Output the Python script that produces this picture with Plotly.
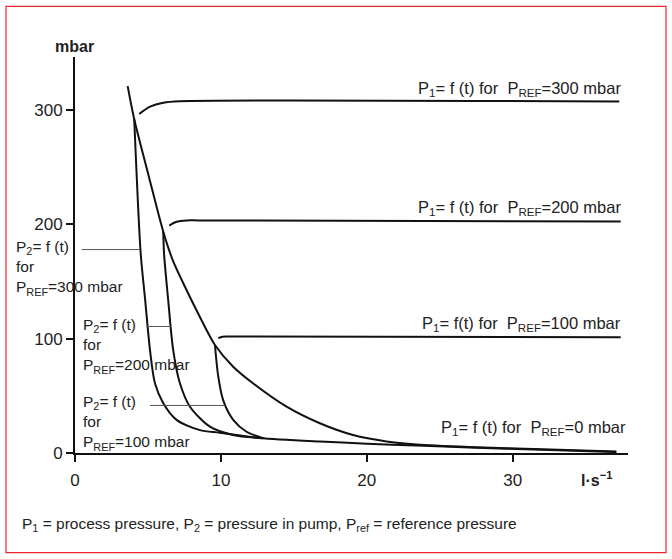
import plotly.graph_objects as go

# ---- data ----
env_x = [3.61, 4.06, 5.06, 6.05, 6.69, 7.42, 8.56, 9.59, 10.84, 12.2, 14.5, 16.78, 19.06, 21.35, 23.4, 27.0, 32.0, 37.1]
env_y = [321, 292, 242, 193.6, 169, 148.5, 119, 94.5, 75.5, 61, 40.5, 26, 15.7, 10.1, 7.5, 5.3, 3.2, 1.3]

p2_300_x = [4.06, 4.5, 4.8, 5.14, 5.48, 6.05, 6.96, 8.56, 9.93, 12.67, 16.78, 20.0, 23.4, 27.0, 32.0, 37.1]
p2_300_y = [292, 175, 135, 90, 61, 43.5, 29, 20, 17.8, 13.2, 10, 8.2, 6.5, 4.8, 2.8, 0.8]

p2_200_x = [6.05, 6.1, 6.4, 6.73, 7.19, 7.88, 9.25, 10.84, 12.9]
p2_200_y = [193.6, 175, 132, 90, 61, 40.5, 23, 15.7, 12.8]

p2_100_x = [9.59, 9.82, 10.16, 10.84, 11.76, 12.9]
p2_100_y = [94.5, 66.8, 46, 29, 18.6, 12.9]

p1_300_x = [4.40, 5.14, 6.05, 7.19, 37.3]
p1_300_y = [296.6, 303, 306.5, 307.8, 307.5]

p1_200_x = [6.46, 6.96, 7.65, 8.5, 37.4]
p1_200_y = [199, 202.3, 203.5, 203.5, 202.5]

p1_100_x = [9.82, 10.1, 10.5, 37.4]
p1_100_y = [100.5, 101.8, 102, 101.3]

lead_300_x = [0.46, 4.45]
lead_300_y = [178, 178]
lead_200_x = [4.9, 6.6]
lead_200_y = [110.7, 110.7]
lead_100_x = [5.14, 10.3]
lead_100_y = [41.6, 41.6]

x_ticks = [0, 10, 20, 30]
y_ticks = [0, 100, 200, 300]

FONT = "Liberation Sans, Arial, Helvetica, sans-serif"
TXT = "#222"

fig = go.Figure()

def curve(xs, ys, width=2.0, color="#111", shape="spline"):
    fig.add_trace(go.Scatter(x=xs, y=ys, mode="lines",
                             line=dict(color=color, width=width, shape=shape, smoothing=0.8),
                             hoverinfo="skip", showlegend=False))

curve(env_x, env_y)
curve(p2_300_x, p2_300_y)
curve(p2_200_x, p2_200_y)
curve(p2_100_x, p2_100_y)
curve(p1_300_x, p1_300_y)
curve(p1_200_x, p1_200_y)
curve(p1_100_x, p1_100_y)
curve(lead_300_x, lead_300_y, width=1, color="#555", shape="linear")
curve(lead_200_x, lead_200_y, width=1, color="#555", shape="linear")
curve(lead_100_x, lead_100_y, width=1, color="#555", shape="linear")

# plot area on screen: x 75..628, y 56.7..453.3
PX0, PX1, PY0, PY1 = 75.0, 628.0, 453.3, 56.7
def px(x):
    return (x - PX0) / (PX1 - PX0)
def py(y):
    return (PY0 - y) / (PY0 - PY1)

ann = []
def txt(x, y, text, xanchor="left", yanchor="middle", size=16.5, bold=False):
    if bold:
        text = "<b>" + text + "</b>"
    ann.append(dict(x=px(x), y=py(y), xref="paper", yref="paper", text=text, showarrow=False,
                    xanchor=xanchor, yanchor=yanchor, align="left", borderpad=0,
                    font=dict(family=FONT, size=size, color=TXT)))

# right-hand P1 labels (right ends at ~620 px)
txt(622, 89, "P<sub>1</sub>= f (t) for  P<sub>REF</sub>=300 mbar", xanchor="right")
txt(622, 208, "P<sub>1</sub>= f (t) for  P<sub>REF</sub>=200 mbar", xanchor="right")
txt(622, 324, "P<sub>1</sub>= f(t) for  P<sub>REF</sub>=100 mbar", xanchor="right")
txt(627, 428, "P<sub>1</sub>= f (t) for  P<sub>REF</sub>=0 mbar", xanchor="right")

# left P2 labels (three-line blocks, centred on the middle line)
for left, ymid, ref in [(15, 268, "300"), (82, 346, "200"), (82, 423, "100")]:
    txt(left, ymid, "P<sub>2</sub>= f (t)<br>for<br>P<sub>REF</sub>=" + ref + " mbar", size=15.5)

# axis titles
txt(74, 46, "mbar", xanchor="center", size=16, bold=True)
txt(596, 479, "l·s<sup>−1</sup>", xanchor="center", size=16, bold=True)

# footnote
txt(21, 525, "P<sub>1</sub> = process pressure, P<sub>2</sub> = pressure in pump, P<sub>ref</sub> = reference pressure",
    size=15.5)

W, H = 672, 559
fig.update_layout(
    width=W, height=H,
    margin=dict(l=PX0, r=W - PX1, t=PY1, b=H - PY0, pad=0),
    paper_bgcolor="white", plot_bgcolor="white",
    annotations=ann,
    font=dict(family=FONT, size=16, color=TXT),
    shapes=[dict(type="rect", xref="paper", yref="paper",
                 x0=px(6), x1=px(666), y0=py(553), y1=py(6),
                 line=dict(color="#e8262b", width=1.2), fillcolor="rgba(0,0,0,0)", layer="below")],
)
fig.update_xaxes(range=[0, 37.9], tickvals=x_ticks, showline=True, linecolor="#111", linewidth=2,
                 ticks="outside", ticklen=7, tickwidth=1.5, tickcolor="#111",
                 showgrid=False, zeroline=False, ticklabelstandoff=4, automargin=False,
                 tickfont=dict(family=FONT, size=17, color=TXT))
fig.update_yaxes(range=[0, 346.5], tickvals=y_ticks, showline=True, linecolor="#111", linewidth=2,
                 ticks="outside", ticklen=7, tickwidth=1.5, tickcolor="#111",
                 showgrid=False, zeroline=False, automargin=False,
                 tickfont=dict(family=FONT, size=17, color=TXT))

# remove the default 8 px page margin so the figure sits at the window's top-left corner
fig.write_html("out.html", config={"displayModeBar": False},
               post_script="document.body.style.margin='0';")
